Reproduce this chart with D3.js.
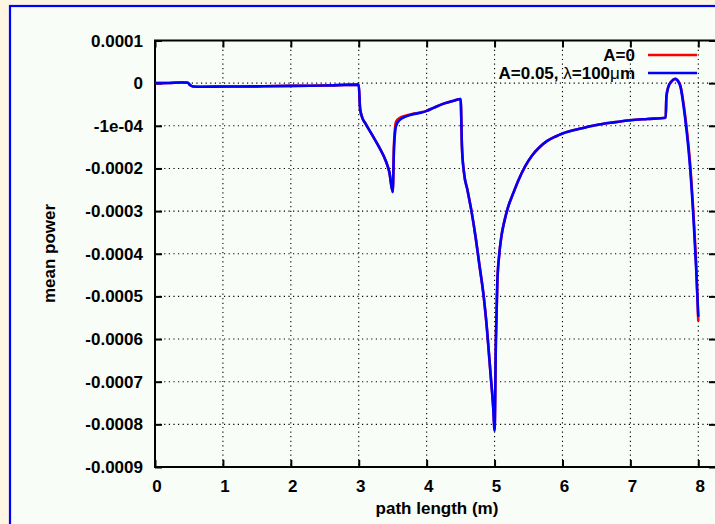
<!DOCTYPE html>
<html>
<head>
<meta charset="utf-8">
<script src="https://cdn.jsdelivr.net/npm/d3@7"></script>
<style>
  html, body { margin: 0; padding: 0; background: #fcf6e3; }
  svg { display: block; }
  text { font-family: "Liberation Sans", Arial, Helvetica, sans-serif; font-weight: bold; fill: #000; }
</style>
</head>
<body>
<svg id="chart" width="715" height="524"></svg>
<script>
// Path positions along the beam line (m)
const pathLength = [
  0, 0.2, 0.4, 0.48, 0.52, 0.56, 0.7, 1.0, 1.5, 2.0, 2.5, 3.0,
  3.02, 3.05, 3.1, 3.2, 3.3, 3.4, 3.45, 3.5, 3.52, 3.55, 3.6, 3.7, 3.8, 3.9, 4.0, 4.1, 4.25, 4.4, 4.5,
  4.52, 4.55, 4.6, 4.66, 4.72, 4.78, 4.84, 4.89, 4.94, 4.98, 5.0,
  5.02, 5.04, 5.07, 5.1, 5.15, 5.2, 5.27, 5.35, 5.45, 5.55, 5.65, 5.77, 5.9, 6.0, 6.25, 6.5, 6.75, 7.0, 7.25, 7.52,
  7.53, 7.56, 7.6, 7.66, 7.7, 7.74, 7.78, 7.83, 7.88, 7.93, 7.97, 8.0
];

// Mean power, A = 0 (units of 1e-4)
const powerA0 = [
  0, 0.005, 0.02, 0.015, -0.05, -0.08, -0.085, -0.08, -0.075, -0.065, -0.055, -0.035,
  -0.6, -0.8, -0.95, -1.22, -1.5, -1.83, -2.08, -2.55, -1.4, -0.9, -0.82, -0.76, -0.72, -0.69, -0.65, -0.58, -0.48, -0.41, -0.37,
  -1.5, -2.1, -2.5, -3.0, -3.6, -4.3, -5.0, -5.8, -6.8, -7.6, -8.1,
  -6.0, -4.7, -4.0, -3.6, -3.2, -2.9, -2.6, -2.28, -1.95, -1.7, -1.52, -1.36, -1.25, -1.18, -1.07, -0.98, -0.92, -0.87, -0.84, -0.81,
  -0.33, -0.08, 0.03, 0.10, 0.06, -0.08, -0.45, -1.08, -1.9, -3.1, -4.3, -5.58
];

// Mean power, A = 0.05, lambda = 100 um (units of 1e-4)
const powerA005 = [
  0, 0.005, 0.015, 0.01, -0.05, -0.08, -0.085, -0.08, -0.075, -0.065, -0.055, -0.035,
  -0.6, -0.8, -0.95, -1.22, -1.5, -1.83, -2.08, -2.55, -1.5, -1.0, -0.87, -0.78, -0.73, -0.70, -0.65, -0.58, -0.48, -0.41, -0.37,
  -1.5, -2.1, -2.5, -3.0, -3.6, -4.3, -5.0, -5.8, -6.8, -7.6, -8.15,
  -6.0, -4.7, -4.0, -3.6, -3.2, -2.9, -2.6, -2.28, -1.95, -1.7, -1.52, -1.36, -1.25, -1.18, -1.07, -0.98, -0.92, -0.87, -0.84, -0.81,
  -0.33, -0.08, 0.03, 0.10, 0.05, -0.10, -0.5, -1.15, -2.0, -3.2, -4.4, -5.48
];

const xTicks = [0, 1, 2, 3, 4, 5, 6, 7, 8];
const yTicks = [1e-4, 0, -1e-4, -2e-4, -3e-4, -4e-4, -5e-4, -6e-4, -7e-4, -8e-4, -9e-4];
const yTickLabels = ["0.0001", "0", "-1e-04", "-0.0002", "-0.0003", "-0.0004", "-0.0005",
                     "-0.0006", "-0.0007", "-0.0008", "-0.0009"];
const seriesNames = ["A=0", "A=0.05, λ=100μm"];
const seriesColors = ["#ff0000", "#0000ff"];

const svg = d3.select("#chart");
const W = 715, H = 524;

// Page panel with blue border
svg.append("rect").attr("x", 0).attr("y", 0).attr("width", W).attr("height", H).attr("fill", "#fcf6e3");
svg.append("rect").attr("x", 10).attr("y", 6).attr("width", W + 20).attr("height", H + 20)
  .attr("fill", "#f8fdf7").attr("stroke", "#0000ff").attr("stroke-width", 2.2);

const plotLeft = 155, plotRight = 716, plotTop = 40.5, plotBottom = 467;
const x = d3.scaleLinear().domain([0, 8 * (plotRight - plotLeft) / (698.3 - plotLeft)]).range([plotLeft, plotRight]);
const y = d3.scaleLinear().domain([-9e-4, 1e-4]).range([plotBottom, plotTop]);

// Dotted grid
const grid = svg.append("g").attr("stroke", "#000").attr("stroke-width", 1.1).attr("stroke-dasharray", "1.2,3.4");
grid.selectAll("line.gx").data(xTicks.slice(1)).join("line")
  .attr("x1", d => x(d)).attr("x2", d => x(d)).attr("y1", plotTop).attr("y2", plotBottom);
grid.selectAll("line.gy").data(yTicks.slice(1, -1)).join("line")
  .attr("y1", d => y(d)).attr("y2", d => y(d)).attr("x1", plotLeft).attr("x2", plotRight);

// Axes with inward ticks on all four sides
const tickLen = 7;
const axB = svg.append("g").attr("transform", `translate(0,${plotBottom})`)
  .call(d3.axisBottom(x).tickValues(xTicks).tickSize(-tickLen).tickFormat(""));
const axT = svg.append("g").attr("transform", `translate(0,${plotTop})`)
  .call(d3.axisTop(x).tickValues(xTicks).tickSize(-tickLen).tickFormat(""));
const axL = svg.append("g").attr("transform", `translate(${plotLeft},0)`)
  .call(d3.axisLeft(y).tickValues(yTicks).tickSize(-tickLen).tickFormat(""));
const axR = svg.append("g").attr("transform", `translate(${plotRight},0)`)
  .call(d3.axisRight(y).tickValues(yTicks).tickSize(-tickLen).tickFormat(""));
[axB, axT, axL, axR].forEach(g => {
  g.select(".domain").remove();
  g.selectAll(".tick line").attr("stroke", "#000").attr("stroke-width", 2);
});

// Frame
svg.append("rect").attr("x", plotLeft).attr("y", plotTop)
  .attr("width", plotRight - plotLeft).attr("height", plotBottom - plotTop)
  .attr("fill", "none").attr("stroke", "#000").attr("stroke-width", 2);

// Tick labels
svg.append("g").selectAll("text").data(xTicks).join("text")
  .attr("x", d => x(d) + 2).attr("y", 492).attr("text-anchor", "middle")
  .attr("font-size", 17).text(d => d);
svg.append("g").selectAll("text").data(yTicks).join("text")
  .attr("x", 143).attr("y", d => y(d) + 6).attr("text-anchor", "end")
  .attr("font-size", 17).text((d, i) => yTickLabels[i]);

// Axis titles
svg.append("text").attr("x", 437).attr("y", 514).attr("text-anchor", "middle")
  .attr("font-size", 17).text("path length (m)");
svg.append("text").attr("transform", "translate(55,253.5) rotate(-90)").attr("text-anchor", "middle")
  .attr("font-size", 17).text("mean power");

// Curves
const clip = svg.append("clipPath").attr("id", "plotclip");
clip.append("rect").attr("x", plotLeft).attr("y", plotTop - 3)
  .attr("width", plotRight - plotLeft).attr("height", plotBottom - plotTop + 3);

const line = d3.line()
  .x((d, i) => x(pathLength[i]))
  .y(d => y(d * 1e-4))
  .curve(d3.curveMonotoneX);

const curves = svg.append("g").attr("clip-path", "url(#plotclip)");
[powerA0, powerA005].forEach((vals, k) => {
  curves.append("path").datum(vals)
    .attr("d", line)
    .attr("fill", "none")
    .attr("stroke", seriesColors[k])
    .attr("stroke-width", 2.6)
    .attr("stroke-linejoin", "round");
});

// Legend
const legend = svg.append("g");
seriesNames.forEach((name, k) => {
  const cy = 55 + k * 18;
  const t = legend.append("text").attr("x", 635).attr("y", cy + 6).attr("text-anchor", "end").attr("font-size", 17);
  if (k === 0) {
    t.text(name);
  } else {
    t.append("tspan").text("A=0.05, ");
    t.append("tspan").attr("font-weight", "normal").text("λ");
    t.append("tspan").text("=100");
    t.append("tspan").attr("font-weight", "normal").text("μ");
    t.append("tspan").text("m");
  }
  legend.append("line").attr("x1", 648).attr("x2", 697).attr("y1", cy).attr("y2", cy)
    .attr("stroke", seriesColors[k]).attr("stroke-width", 2.4);
});
</script>
</body>
</html>
